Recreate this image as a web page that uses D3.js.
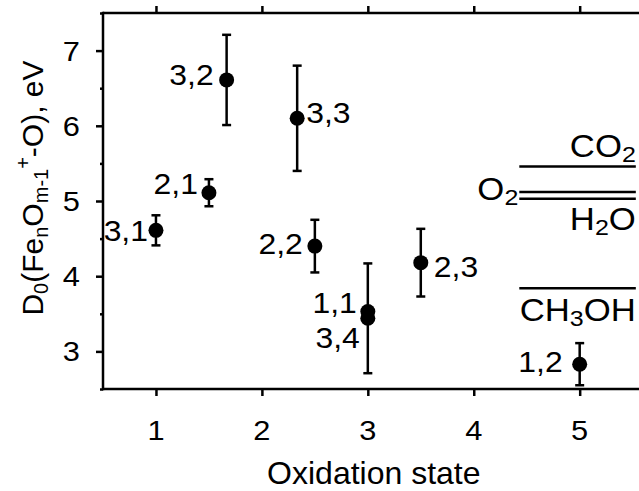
<!DOCTYPE html>
<html><head><meta charset="utf-8">
<script src="https://cdn.jsdelivr.net/npm/d3@7"></script>
<style>
html,body{margin:0;padding:0;background:#fff;}
text{font-family:"Liberation Sans",Arial,sans-serif;fill:#000;}
</style></head>
<body>
<svg id="c" width="639" height="491"></svg>
<script>
// Data
const labels = ["3,1","2,1","3,2","3,3","2,2","1,1","3,4","2,3","1,2"];
const oxState = [1, 1.5, 1.667, 2.333, 2.5, 3, 3, 3.5, 5];
const d0 = [4.61, 5.11, 6.61, 6.10, 4.40, 3.53, 3.44, 4.18, 2.83];
const errs = [0.20, 0.18, 0.60, 0.70, 0.35, 0, 0.73, 0.45, 0.28];
const xTicks = [1, 2, 3, 4, 5];
const yTicks = [3, 4, 5, 6, 7];
const yMinor = [2.5, 3.5, 4.5, 5.5, 6.5, 7.5];
const refNames = ["CO2", "O2", "H2O", "CH3OH"];
const refValues = [5.46, 5.12, 5.03, 3.84];

const L = 103, T = 13, B = 389, R = 639;
const x = d3.scaleLinear().domain([0.5, 5.56]).range([L, R]);
const y = d3.scaleLinear().domain([2.5, 7.5]).range([B, T]);
const svg = d3.select("#c");
const FS = 29, SX = 1.1;

function stext(parent, tx, ty, anchor, fs, sx) {
  return parent.append("text").attr("transform", `translate(${tx},${ty}) scale(${sx},1)`)
    .attr("text-anchor", anchor).attr("font-size", fs);
}

// axes (ticks)
const gl = svg.append("g").attr("transform", `translate(${L},0)`)
  .call(d3.axisLeft(y).tickValues(yTicks).tickSize(7).tickFormat(""));
const glm = svg.append("g").attr("transform", `translate(${L},0)`)
  .call(d3.axisLeft(y).tickValues(yMinor).tickSize(3).tickFormat(""));
const gb = svg.append("g").attr("transform", `translate(0,${B})`)
  .call(d3.axisBottom(x).tickValues(xTicks).tickSize(7).tickFormat(""));
const gt = svg.append("g").attr("transform", `translate(0,${T})`)
  .call(d3.axisTop(x).tickValues(xTicks).tickSize(7).tickFormat(""));
[gl, glm, gb, gt].forEach(g => {
  g.select(".domain").remove();
  g.selectAll(".tick line").attr("stroke", "#000").attr("stroke-width", 2.5);
});
// tick labels
yTicks.forEach(v => stext(svg, 80, y(v) + 10, "end", 28, SX).text(d3.format("d")(v)));
xTicks.forEach(v => stext(svg, x(v), 440, "middle", 28, SX).text(d3.format("d")(v)));

// frame lines
svg.append("line").attr("x1", L).attr("x2", L).attr("y1", T - 1.25).attr("y2", B + 1.25).attr("stroke", "#000").attr("stroke-width", 2.5);
svg.append("line").attr("x1", L).attr("x2", R).attr("y1", B).attr("y2", B).attr("stroke", "#000").attr("stroke-width", 2.5);
svg.append("line").attr("x1", L).attr("x2", R).attr("y1", T).attr("y2", T).attr("stroke", "#000").attr("stroke-width", 2.5);

// axis titles
svg.append("text").attr("x", (x(1) + x(5)) / 2 + 6).attr("y", 484).attr("text-anchor", "middle")
  .attr("font-size", 32).text("Oxidation state");
const yl = svg.append("text").attr("transform", `translate(43,${(T + B) / 2 - 13}) rotate(-90)`)
  .attr("text-anchor", "middle").attr("font-size", 30);
yl.append("tspan").text("D");
yl.append("tspan").attr("font-size", 20).attr("dy", 5).text("0");
yl.append("tspan").attr("dy", -5).text("(Fe");
yl.append("tspan").attr("font-size", 20).attr("dy", 5).text("n");
yl.append("tspan").attr("dy", -5).text("O");
yl.append("tspan").attr("font-size", 20).attr("dy", 5).text("m-1");
yl.append("tspan").attr("font-size", 20).attr("dy", -18).text("+");
yl.append("tspan").attr("dy", 13).text("-O), eV");

// reference lines
const refX1 = 4.43, refX2 = 5.53;
svg.append("g").selectAll("line").data(refValues).join("line")
  .attr("x1", x(refX1)).attr("x2", x(refX2))
  .attr("y1", d => y(d)).attr("y2", d => y(d))
  .attr("stroke", "#000").attr("stroke-width", 2.5);

function chem(t, name, fs) {
  const parts = name.match(/[A-Za-z]+|\d+/g);
  let prevSub = false;
  parts.forEach(p => {
    if (/\d/.test(p)) { t.append("tspan").attr("font-size", fs * 0.72).attr("dy", 5).text(p); prevSub = true; }
    else { const ts = t.append("tspan").text(p); if (prevSub) ts.attr("dy", -5); prevSub = false; }
  });
}
const LFS = 31;
const refLab = [
  {i: 0, tx: x(refX2), ty: y(refValues[0]) - 9, anchor: "end"},
  {i: 1, tx: x(refX1) - 1, ty: y(refValues[1]) + 8, anchor: "end"},
  {i: 2, tx: x(refX2), ty: y(refValues[2]) + 31, anchor: "end"},
  {i: 3, tx: x(refX2), ty: y(refValues[3]) + 33, anchor: "end"}
];
refLab.forEach(r => chem(stext(svg, r.tx, r.ty, r.anchor, LFS, 1.12), refNames[r.i], LFS));

// error bars
const pts = labels.map((l, i) => ({l, x: oxState[i], y: d0[i], e: errs[i]}));
const eb = svg.append("g").attr("stroke", "#000").attr("stroke-width", 2.5);
pts.filter(p => p.e > 0).forEach(p => {
  eb.append("line").attr("x1", x(p.x)).attr("x2", x(p.x)).attr("y1", y(p.y - p.e)).attr("y2", y(p.y + p.e));
  [p.y - p.e, p.y + p.e].forEach(v => eb.append("line").attr("x1", x(p.x) - 4.5).attr("x2", x(p.x) + 4.5).attr("y1", y(v)).attr("y2", y(v)));
});
svg.append("g").selectAll("circle").data(pts).join("circle")
  .attr("cx", d => x(d.x)).attr("cy", d => y(d.y)).attr("r", 7.5).attr("fill", "#000");

// point labels
const offs = {"3,1":[-8,11,"end"], "2,1":[-11,1,"end"], "3,2":[-13,5,"end"], "3,3":[9,5,"start"],
  "2,2":[-12,8,"end"], "1,1":[-11,1,"end"], "3,4":[-8,30,"end"], "2,3":[13,14,"start"], "1,2":[-17,8,"end"]};
pts.forEach(d => stext(svg, x(d.x) + offs[d.l][0], y(d.y) + offs[d.l][1], offs[d.l][2], FS, SX).text(d.l));
</script>
</body></html>
